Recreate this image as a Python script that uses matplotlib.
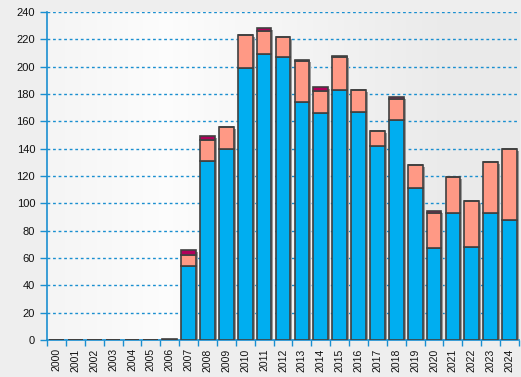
import matplotlib.pyplot as plt
import matplotlib.patheffects as pe
import numpy as np

years = [str(y) for y in range(2000, 2025)]
blue = [0, 0, 0, 0, 0, 0, 0, 54, 131, 140, 199, 209, 207, 174, 166, 183, 167, 142, 161, 111, 67, 93, 68, 93, 88]
salmon = [0, 0, 0, 0, 0, 0, 0, 8, 15, 16, 24, 17, 15, 30, 16, 24, 16, 11, 15, 17, 26, 26, 34, 37, 52]
red = [0, 0, 0, 0, 0, 0, 0.8, 4, 3, 0, 0, 2, 0, 1, 3, 1, 0, 0, 2, 0, 1.5, 0, 0, 0, 0]

plt.rcParams['font.family'] = ['Liberation Sans', 'DejaVu Sans']

fig = plt.figure(figsize=(5.21, 3.77), dpi=100, facecolor='#eeeeee')
ax = fig.add_axes([47 / 521, 37 / 377, 472 / 521, 328 / 377])

# background gradient
grad = np.linspace(0, 1, 256)
shade = np.clip(1 - np.abs(grad - 0.25) * 0.09 / 0.75, 0, 1)
bg = np.stack([shade * 0.99 + 0.0, shade * 0.99, shade * 0.99], axis=-1)[None, :, :]
bg = np.clip(bg, 0.92, 0.99)
ax.imshow(bg, extent=[-0.5, 24.5, 0, 240], aspect='auto', zorder=0)

x = np.arange(len(years))
shadow = [pe.SimplePatchShadow(offset=(2, -2), shadow_rgbFace='#888888', alpha=0.8), pe.Normal()]
b1 = ax.bar(x, blue, width=0.78, color='#00aef0', edgecolor='#404040', linewidth=1.2, zorder=3)
s = np.array(blue)
b2 = ax.bar(x, salmon, width=0.78, bottom=s, color='#ff9985', edgecolor='#404040', linewidth=1.2, zorder=3)
s = s + np.array(salmon)
b3 = ax.bar(x, red, width=0.78, bottom=s, color='#b0005a', edgecolor='#404040', linewidth=1.2, zorder=3)
tot = s + np.array(red)

# shadow for whole stack
for xi, t in zip(x, tot):
    if t > 0:
        r = plt.Rectangle((xi - 0.39, 0), 0.78, t, facecolor='#999999', edgecolor='none', zorder=2,
                          transform=ax.transData)
        r.set_path_effects([])
        ax.add_patch(r)
        r.set_transform(ax.transData + plt.matplotlib.transforms.ScaledTranslation(2 / 100, -2 / 100, fig.dpi_scale_trans))

ax.set_xlim(-0.5, 24.5)
ax.set_ylim(0, 240)
ax.set_yticks(range(0, 241, 20))
ax.set_xticks(x)
ax.set_xticklabels(years, rotation=90)
ax.set_xticks(np.arange(-0.5, 25, 1), minor=True)
ax.tick_params(axis='x', which='major', length=0, pad=6, labelsize=7.5, colors='#111111')
ax.tick_params(axis='x', which='minor', length=4, color='#1a8fd0', width=1)
ax.tick_params(axis='y', length=5, color='#1a8fd0', width=1, labelsize=8, colors='#111111')
ax.tick_params(axis='y', colors='#1a8fd0', labelcolor='#111111')
ax.tick_params(axis='x', which='minor', colors='#1a8fd0')

ax.grid(axis='y', color='#1a8fd0', linestyle=(0, (2, 2)), linewidth=1, zorder=1)
ax.set_axisbelow(True)
for sp in ['top', 'right']:
    ax.spines[sp].set_visible(False)
for sp in ['left', 'bottom']:
    ax.spines[sp].set_color('#1a8fd0')
    ax.spines[sp].set_linewidth(1.2)

fig.savefig('out.png', dpi=100, facecolor=fig.get_facecolor())
